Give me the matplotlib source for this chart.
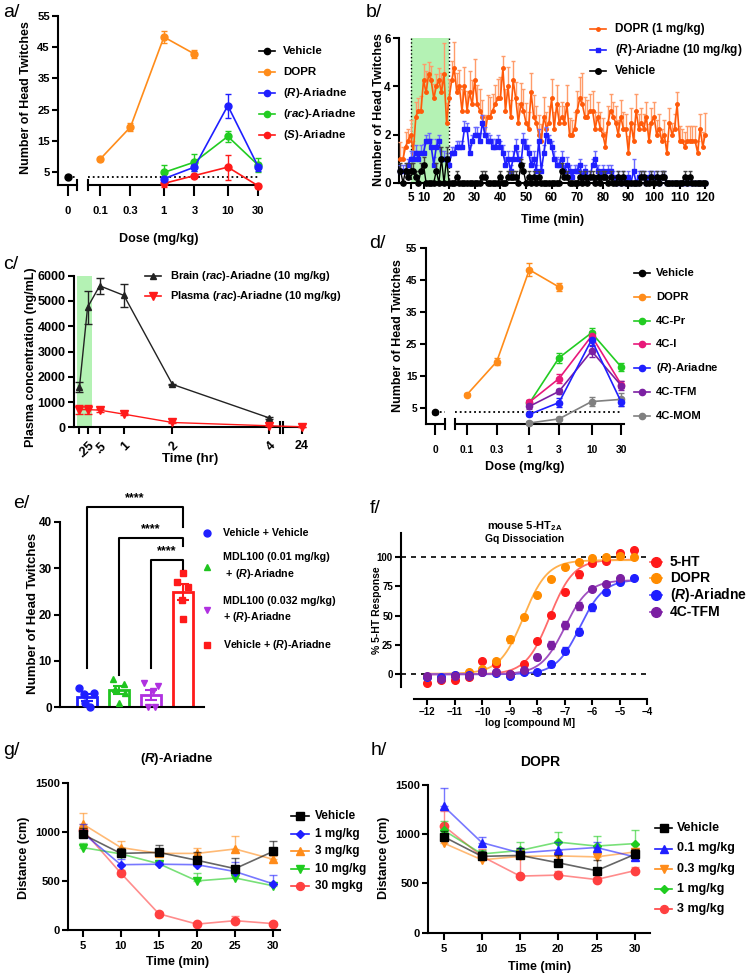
import numpy as np
import matplotlib
matplotlib.use('Agg')
import matplotlib.pyplot as plt
from matplotlib.lines import Line2D
from matplotlib.patches import ConnectionPatch
from matplotlib import font_manager

_names = {f.name for f in font_manager.fontManager.ttflist}
NARROW = 'Liberation Sans Narrow' if 'Liberation Sans Narrow' in _names else 'Liberation Sans'
HAS_NARROW = NARROW == 'Liberation Sans Narrow'

plt.rcParams['font.family'] = ['Liberation Sans', 'DejaVu Sans']
plt.rcParams['font.weight'] = 'bold'
plt.rcParams['axes.labelweight'] = 'bold'
plt.rcParams['mathtext.fontset'] = 'custom'
plt.rcParams['mathtext.rm'] = 'Liberation Sans:bold'
plt.rcParams['mathtext.it'] = 'Liberation Sans:italic:bold'
plt.rcParams['mathtext.bf'] = 'Liberation Sans:bold'
plt.rcParams['axes.linewidth'] = 1.5

# ======================= DATA =======================
# --- panel a ---
dose_ticks = [0.1, 0.3, 1, 3, 10, 30]
dose_tick_labels = ['0.1', '0.3', '1', '3', '10', '30']
dose_yticks = [5, 15, 25, 35, 45, 55]
a_vehicle_dose = [0]
a_vehicle = [3.7]
a_vehicle_err = [0.5]
a_dopr_dose = [0.1, 0.3, 1, 3]
a_dopr = [9.2, 19.5, 48.2, 42.8]
a_dopr_err = [0.5, 1.2, 2.0, 1.3]
a_ari_dose = [1, 3, 10, 30]
a_r = [3.0, 6.7, 26.3, 6.8]
a_r_err = [0.5, 1.3, 3.8, 1.2]
a_rac = [5.0, 8.3, 16.5, 7.3]
a_rac_err = [2.5, 2.7, 1.7, 2.2]
a_s = [1.5, 4.0, 6.7, 0.7]
a_s_err = [1.0, 0.5, 4.0, 0.5]

# --- panel b ---
b_time = list(range(1, 121))
b_dopr = [1.0, 1.0, 1.5, 1.75, 2.0, 1.25, 2.75, 3.0, 3.0, 4.25,
          3.75, 4.5, 4.25, 3.5, 4.0, 4.25, 3.75, 4.5, 2.5, 3.5,
          4.25, 4.75, 3.75, 4.0, 3.0, 4.0, 3.0, 3.75, 3.25, 4.25,
          3.25, 3.0, 2.75, 2.0, 2.75, 2.75, 3.0, 3.25, 3.5, 3.5,
          4.75, 3.0, 4.0, 2.75, 4.25, 3.5, 2.5, 3.25, 3.0, 2.5,
          2.25, 3.75, 2.75, 2.5, 2.0, 1.75, 2.75, 2.25, 2.5, 3.5,
          2.25, 3.25, 2.5, 2.75, 2.5, 3.25, 2.0, 2.0, 2.25, 3.0,
          3.5, 3.25, 2.75, 2.75, 3.0, 3.0, 2.25, 2.75, 2.25, 2.0,
          1.5, 2.5, 3.0, 2.75, 2.5, 2.0, 2.75, 2.25, 2.25, 1.25,
          2.5, 1.75, 3.0, 2.25, 2.5, 2.25, 2.75, 1.75, 2.5, 2.75,
          2.0, 2.25, 1.75, 2.0, 1.25, 2.5, 2.0, 2.25, 3.25, 1.75,
          1.75, 1.5, 1.75, 1.75, 1.75, 1.75, 1.25, 2.25, 1.5, 2.0]
b_dopr_err = [0.7, 0.5, 0.6, 0.5, 0.6, 0.5, 0.6, 0.5, 0.6, 0.7,
              0.9, 0.5, 0.6, 0.6, 0.5, 0.5, 0.8, 1.3, 0.8, 0.8,
              0.8, 1.1, 0.8, 0.7, 0.9, 0.8, 0.8, 0.9, 1.0, 0.9,
              0.8, 0.9, 0.7, 0.8, 0.9, 0.8, 0.7, 0.8, 0.8, 0.9,
              0.5, 0.9, 0.8, 0.7, 0.8, 0.7, 0.8, 0.9, 0.9, 0.8,
              0.7, 0.8, 0.9, 0.7, 0.8, 0.7, 0.8, 0.7, 0.7, 0.8,
              0.7, 0.8, 0.7, 0.6, 0.7, 0.8, 0.7, 0.6, 0.7, 0.8,
              0.9, 1.3, 0.8, 0.7, 0.7, 0.8, 0.7, 0.6, 0.7, 0.7,
              0.6, 0.7, 0.7, 0.6, 0.7, 0.6, 0.7, 0.7, 0.6, 0.7,
              0.6, 0.7, 0.7, 0.6, 0.6, 0.6, 0.6, 0.7, 0.6, 0.6,
              0.6, 0.6, 0.5, 0.6, 0.5, 0.6, 0.5, 0.6, 0.5, 0.6,
              0.5, 0.6, 0.6, 0.6, 0.6, 0.6, 0.5, 0.6, 0.6, 0.9]
b_ari = [0.5, 0.5, 0.5, 0.75, 1.0, 1.0, 1.25, 1.0, 1.25, 1.25,
         1.75, 1.75, 1.5, 0.75, 1.5, 1.75, 1.0, 1.0, 1.0, 0.75,
         1.25, 1.25, 1.5, 1.5, 1.5, 2.25, 2.25, 1.25, 1.75, 2.0,
         2.0, 1.75, 2.5, 2.0, 1.75, 1.75, 1.5, 1.5, 1.75, 1.5,
         1.25, 0.75, 1.0, 0.5, 1.0, 1.5, 1.0, 0.75, 1.75, 1.5,
         1.25, 0.75, 1.0, 0.5, 1.75, 0.5, 1.25, 2.0, 1.75, 1.5,
         1.0, 0.75, 0.75, 1.0, 0.5, 0.75, 0.5, 0.25, 0.5, 0.5,
         0.75, 0.25, 0.5, 0.25, 0.25, 0.75, 1.0, 0.5, 0.25, 0.5,
         0.25, 0.5, 0.5, 0.25, 0.0, 0.25, 0.0, 0.25, 0.0, 0.25,
         0.0, 0.5, 0.0, 0.25, 0.25, 0.25, 0.0, 0.25, 0.25, 0.25,
         0.25, 0.0, 0.25, 0.25, 0.0, 0.0, 0.0, 0.0, 0.0, 0.0,
         0.0, 0.0, 0.0, 0.0, 0.0, 0.0, 0.0, 0.0, 0.0, 0.0]
b_ari_err = [0.25, 0.25, 0.25, 0.25, 0.3, 0.3, 0.3, 0.3, 0.3, 0.35,
             0.25, 0.3, 0.3, 0.3, 0.3, 0.25, 0.3, 0.3, 0.25, 0.3,
             0.25, 0.25, 0.25, 0.25, 0.25, 0.3, 0.25, 0.3, 0.25, 0.3,
             0.3, 0.3, 0.3, 0.3, 0.3, 0.25, 0.3, 0.3, 0.25, 0.25,
             0.3, 0.3, 0.3, 0.25, 0.3, 0.3, 0.3, 0.3, 0.3, 0.3,
             0.3, 0.3, 0.3, 0.25, 0.5, 0.25, 0.3, 0.3, 0.25, 0.25,
             0.3, 0.3, 0.25, 0.3, 0.25, 0.3, 0.25, 0.25, 0.25, 0.25,
             0.25, 0.25, 0.25, 0.25, 0.25, 0.25, 0.3, 0.25, 0.25, 0.25,
             0.25, 0.25, 0.25, 0.25, 0.0, 0.25, 0.0, 0.25, 0.0, 0.25,
             0.0, 0.5, 0.0, 0.25, 0.25, 0.25, 0.0, 0.25, 0.25, 0.25,
             0.25, 0.0, 0.25, 0.25, 0.0, 0.0, 0.0, 0.0, 0.0, 0.0,
             0.0, 0.0, 0.0, 0.0, 0.0, 0.0, 0.0, 0.0, 0.0, 0.0]
b_veh = [0.5, 0.0, 0.5, 0.25, 0.5, 0.5, 0.25, 0.0, 0.5, 0.75,
         0.0, 0.0, 0.0, 0.0, 0.5, 0.0, 1.0, 0.0, 1.0, 0.0,
         0.0, 0.0, 0.25, 0.0, 0.0, 0.0, 0.0, 0.0, 0.0, 0.0,
         0.0, 0.0, 0.25, 0.25, 0.0, 0.0, 0.0, 0.0, 0.0, 0.25,
         0.0, 0.0, 0.25, 0.25, 0.25, 0.25, 0.0, 0.75, 0.5, 0.0,
         0.25, 0.0, 0.25, 0.0, 0.25, 0.0, 0.0, 0.0, 0.0, 0.0,
         0.0, 0.0, 0.0, 0.5, 0.25, 0.25, 0.0, 0.0, 0.0, 0.0,
         0.25, 0.0, 0.25, 0.0, 0.25, 0.25, 0.0, 0.25, 0.0, 0.25,
         0.25, 0.0, 0.25, 0.0, 0.0, 0.25, 0.0, 0.25, 0.0, 0.0,
         0.0, 0.0, 0.0, 0.0, 0.25, 0.25, 0.0, 0.0, 0.25, 0.0,
         0.25, 0.0, 0.25, 0.25, 0.0, 0.0, 0.0, 0.0, 0.0, 0.0,
         0.0, 0.25, 0.0, 0.25, 0.0, 0.0, 0.0, 0.0, 0.0, 0.0]
b_veh_err = [0.3, 0.0, 0.3, 0.25, 0.3, 0.3, 0.25, 0.0, 0.3, 0.3,
             0.0, 0.0, 0.0, 0.0, 0.3, 0.0, 0.5, 0.0, 0.5, 0.0,
             0.0, 0.0, 0.25, 0.0, 0.0, 0.0, 0.0, 0.0, 0.0, 0.0,
             0.0, 0.0, 0.25, 0.25, 0.0, 0.0, 0.0, 0.0, 0.0, 0.25,
             0.0, 0.0, 0.25, 0.25, 0.25, 0.25, 0.0, 0.25, 0.3, 0.0,
             0.25, 0.0, 0.25, 0.0, 0.25, 0.0, 0.0, 0.0, 0.0, 0.0,
             0.0, 0.0, 0.0, 0.3, 0.25, 0.25, 0.0, 0.0, 0.0, 0.0,
             0.25, 0.0, 0.25, 0.0, 0.25, 0.25, 0.0, 0.25, 0.0, 0.25,
             0.25, 0.0, 0.25, 0.0, 0.0, 0.25, 0.0, 0.25, 0.0, 0.0,
             0.0, 0.0, 0.0, 0.0, 0.25, 0.25, 0.0, 0.0, 0.25, 0.0,
             0.25, 0.0, 0.25, 0.25, 0.0, 0.0, 0.0, 0.0, 0.0, 0.0,
             0.0, 0.25, 0.0, 0.25, 0.0, 0.0, 0.0, 0.0, 0.0, 0.0]
b_shade = [5, 20]
b_xticks = [5, 10, 20, 30, 40, 50, 60, 70, 80, 90, 100, 110, 120]
b_yticks = [0, 2, 4, 6]

# --- panel c ---
c_time = [0.083, 0.25, 0.5, 1, 2, 4]
c_tick_labels = ['', '.25', '.5', '1', '2', '4']
c_brain = [1600, 4750, 5600, 5220, 1700, 370]
c_brain_err = [200, 650, 320, 450, 30, 50]
c_plasma = [700, 700, 680, 520, 190, 60]
c_plasma_err = [170, 170, 60, 40, 20, 15]
c_time_late = [24]
c_plasma_late = [20]
c_plasma_late_err = [10]
c_shade = [0.035, 0.333]
c_yticks = [0, 1000, 2000, 3000, 4000, 5000, 6000]

# --- panel d ---
d_vehicle = [3.7]
d_vehicle_err = [0.5]
d_dopr = [9.2, 19.5, 48.2, 42.8]
d_dopr_err = [0.5, 1.2, 2.0, 1.3]
d_pr = [6.5, 20.7, 28.5, 17.8]
d_pr_err = [1.0, 1.5, 1.5, 1.3]
d_i = [6.8, 14.2, 27.5, 12.3]
d_i_err = [0.8, 1.5, 1.5, 1.2]
d_r = [3.0, 6.7, 26.3, 6.8]
d_r_err = [0.5, 1.3, 2.0, 1.2]
d_tfm = [5.5, 10.2, 22.8, 12.0]
d_tfm_err = [0.8, 0.8, 1.8, 1.5]
d_mom = [0.3, 1.6, 7.0, 7.7]
d_mom_err = [0.5, 0.5, 1.3, 2.0]

# --- panel e ---
e_labels = ['Vehicle + Vehicle', 'MDL100 (0.01 mg/kg)\n + ($\\mathit{R}$)-Ariadne',
            'MDL100 (0.032 mg/kg)\n+ ($\\mathit{R}$)-Ariadne', 'Vehicle + ($\\mathit{R}$)-Ariadne']
e_g1 = [4.1, 2.9, 3.0, 1.0, 0.0]
e_g2 = [6.0, 5.0, 4.0, 3.0, 1.0]
e_g3 = [5.3, 4.5, 3.5, 0.0, 0.0]
e_g4 = [29.0, 27.0, 26.0, 23.2, 19.0]
e_yticks = [0, 10, 20, 30, 40]
e_sig = ['****', '****', '****']

# --- panel f ---
f_logc = [-12, -11.5, -11, -10.5, -10, -9.5, -9, -8.5, -8, -7.5, -7, -6.5, -6, -5.5, -5, -4.5]
f_5ht = [-7.1, -4.8, -4.8, -2.6, 11.1, 8.8, 0.0, 8.8, 28.8, 50.7, 70.7, 85.5, 94.9, 96.9, 103.4, 106.3]
f_5ht_err = [1, 1, 1, 1, 1, 2, 1, 1, 1, 2, 2, 3, 1.5, 1, 1, 1]
f_dopr = [-2.0, -2.0, -1.0, 2.3, 4.3, 11.7, 29.9, 48.7, 68.0, 81.2, 91.5, 96.3, 99.4, 100.6, 101.4, 100.6]
f_dopr_err = [1, 1, 1, 1, 1, 1.5, 3, 1.5, 1.5, 1.5, 1.5, 1, 1, 1, 1, 1]
f_ari = [-2.6, -2.0, -1.0, -0.6, 2.3, 1.4, -1.1, 2.3, 2.3, 8.8, 20.2, 36.5, 57.3, 70.7, 79.2, 82.6]
f_ari_err = [1, 1, 1, 1, 1, 1, 1.5, 1, 1, 2.5, 3, 3, 3, 1.5, 1, 1]
f_tfm = [-1.4, -4.3, -1.4, -1.4, 2.3, 2.3, 0.3, 3.7, 15.1, 25.1, 42.2, 58.4, 72.9, 76.9, 82.1, np.nan]
f_tfm_err = [1, 1.5, 1, 1, 1, 1, 1, 1, 2.5, 3.5, 3.5, 3.5, 1.5, 1.5, 1, 0]
# 4-parameter logistic fit parameters: bottom, top, logEC50, hill
f_fit_5ht = [0.0, 98.0, -7.55, 1.0]
f_fit_dopr = [0.5, 97.5, -8.5, 1.0]
f_fit_ari = [0.0, 81.0, -6.45, 1.0]
f_fit_tfm = [0.0, 80.5, -7.0, 1.0]
f_xticks = [-12, -11, -10, -9, -8, -7, -6, -5, -4]
f_yticks = [0, 25, 50, 75, 100]

# --- panel g ---
gh_time = [5, 10, 15, 20, 25, 30]
g_veh = [975, 780, 790, 710, 625, 800]
g_veh_err = [60, 50, 80, 80, 110, 105]
g_1 = [990, 665, 670, 665, 595, 470]
g_1_err = [90, 60, 20, 30, 100, 85]
g_3 = [1080, 840, 780, 780, 825, 720]
g_3_err = [115, 65, 25, 60, 135, 30]
g_10 = [840, 775, 675, 500, 530, 450]
g_10_err = [50, 40, 25, 80, 30, 20]
g_30 = [1020, 580, 165, 60, 95, 65]
g_30_err = [40, 30, 15, 15, 45, 20]

# --- panel h ---
h_veh = [975, 775, 785, 710, 630, 795]
h_veh_err = [60, 50, 80, 80, 110, 60]
h_01 = [1285, 915, 810, 840, 865, 770]
h_01_err = [180, 60, 55, 80, 55, 20]
h_03 = [910, 740, 775, 780, 770, 820]
h_03_err = [40, 40, 60, 40, 40, 40]
h_1 = [1040, 800, 835, 920, 880, 905]
h_1_err = [90, 40, 85, 105, 105, 135]
h_3 = [1085, 775, 575, 585, 540, 630]
h_3_err = [150, 70, 280, 40, 30, 40]
gh_yticks = [0, 500, 1000, 1500]

# ======================= LAYOUT HELPERS =======================
W, H = 746, 975
fig = plt.figure(figsize=(W / 100, H / 100), dpi=100, facecolor='white')
NS = 1.0 if HAS_NARROW else 0.9   # size factor for narrow-font texts


def add_ax(l, t, r, b):
    ax = fig.add_axes([l / W, 1 - b / H, (r - l) / W, (b - t) / H])
    ax.patch.set_alpha(0)
    for s in ('top', 'right'):
        ax.spines[s].set_visible(False)
    return ax


def ftext(x, y, s, **kw):
    kw.setdefault('fontweight', 'bold')
    return fig.text(x / W, 1 - y / H, s, **kw)


def leg(x0, x1, tx, y, color, label, marker='o', ms=5, lw=1.2, fs=9, family=None, lcolor=None):
    yf = 1 - y / H
    if lw > 0:
        fig.add_artist(Line2D([x0 / W, x1 / W], [yf, yf], color=lcolor or color, lw=lw))
    fig.add_artist(Line2D([(x0 + x1) / 2 / W], [yf], color=color, marker=marker, ms=ms, ls='none'))
    kw = dict(va='center', ha='left', fontsize=fs)
    if family:
        kw['family'] = [family, 'DejaVu Sans']
    ftext(tx, y, label, **kw)


def style_ticks(ax, fs, fam=None, xlen=5, ylen=4, xpad=3, ypad=2):
    ax.tick_params(axis='x', length=xlen, width=1.5, pad=xpad, labelsize=fs)
    ax.tick_params(axis='y', length=ylen, width=1.5, pad=ypad, labelsize=fs)
    for lab in ax.get_xticklabels() + ax.get_yticklabels():
        lab.set_fontweight('bold')
        if fam:
            lab.set_family([fam, 'DejaVu Sans'])


def dose_panel(l, rs, lb, r, t, b, ylim, xlim_big, fam, fs):
    ax0 = add_ax(l, t, rs, b)
    ax1 = add_ax(lb, t, r, b)
    ax1.spines['left'].set_visible(False)
    ax0.set_xlim(-1, 1)
    ax1.set_xscale('log')
    ax1.set_xlim(*xlim_big)
    ax0.set_ylim(*ylim)
    ax1.set_ylim(*ylim)
    ax0.set_yticks(dose_yticks)
    ax1.set_yticks([])
    ax0.set_xticks([0])
    ax0.set_xticklabels(['0'])
    ax1.set_xticks(dose_ticks)
    ax1.set_xticklabels(dose_tick_labels)
    ax1.minorticks_off()
    for ax in (ax0, ax1):
        style_ticks(ax, fs, fam, xlen=8, ylen=4, xpad=7)
    ax0.plot([1, 1], [-0.03, 0.03], transform=ax0.transAxes, color='k', lw=1.5, clip_on=False)
    ax1.plot([0, 0], [-0.03, 0.03], transform=ax1.transAxes, color='k', lw=1.5, clip_on=False)
    return ax0, ax1


def ebar(ax, x, y, err, color, marker='o', ms=5, lw=1.2, cap=2.5, ecolor=None, upper=False, z=3, alpha=1.0):
    e = err
    if upper:
        e = [np.zeros(len(err)), err]
    ax.errorbar(x, y, yerr=e, fmt='-' + marker, color=color, ecolor=ecolor or color, ms=ms, lw=lw,
                elinewidth=1.0, capsize=cap, capthick=1.0, zorder=z, clip_on=False, alpha=alpha)


ORANGE = '#ff8c1a'
BLUE = '#1f1fff'
GREEN = '#22cc22'
RED = '#ff1a1a'

# ======================= PANEL a =======================
a0, a1 = dose_panel(58.3, 77.3, 88.3, 260, 15.7, 185, (1.0, 55), (0.0656, 31.9), NARROW, 9 * NS)
a0.plot([a_vehicle_dose[0], 1], [a_vehicle[0], a_vehicle[0]], ls=':', color='k', lw=1.3, clip_on=False)
a1.hlines(a_vehicle[0], a1.get_xlim()[0], max(dose_ticks), colors='k', linestyles=':', lw=1.3)
ebar(a0, a_vehicle_dose, a_vehicle, a_vehicle_err, 'k')
ebar(a1, a_dopr_dose, a_dopr, a_dopr_err, ORANGE)
ebar(a1, a_ari_dose, a_rac, a_rac_err, GREEN)
ebar(a1, a_ari_dose, a_s, a_s_err, RED)
ebar(a1, a_ari_dose, a_r, a_r_err, BLUE)
ftext(26, 98, 'Number of Head Twitches', rotation=90, va='center', ha='center', fontsize=10 * NS,
      family=[NARROW, 'DejaVu Sans'])
ftext(159, 239, 'Dose (mg/kg)', ha='center', va='center', fontsize=10 * NS, family=[NARROW, 'DejaVu Sans'])
ftext(3, 4, 'a/', ha='left', va='top', fontsize=14, fontweight='normal')
for i, (c, lab) in enumerate([('k', 'Vehicle'), (ORANGE, 'DOPR'), (BLUE, '($\\mathit{R}$)-Ariadne'),
                              (GREEN, '($\\mathit{rac}$)-Ariadne'), (RED, '($\\mathit{S}$)-Ariadne')]):
    leg(259, 275, 283, 51 + i * 21, c, lab, ms=4.5, fs=9.2 * NS, family=NARROW)

# ======================= PANEL b =======================
b = add_ax(399, 38.3, 706.3, 182.7)
b.set_xlim(0.43, 120.4)
b.set_ylim(0, 6)
b.axvspan(b_shade[0], b_shade[1], color='#b4f2b4', lw=0, zorder=0)
for xv in b_shade:
    b.axvline(xv, color='k', ls=':', lw=1.0, zorder=1)
ebar(b, b_time, b_dopr, b_dopr_err, '#ff5a0a', ms=2.5, lw=1.2, cap=1.5, ecolor='#ff9c6a', upper=True)
ebar(b, b_time, b_ari, b_ari_err, BLUE, marker='s', ms=2.3, lw=1.2, cap=1.5, ecolor='#6a6aff', upper=True, z=4)
ebar(b, b_time, b_veh, b_veh_err, 'k', ms=3.8, lw=1.0, cap=1.5, ecolor='#444444', upper=True, z=5)
b.set_xticks(b_xticks)
b.set_yticks(b_yticks)
style_ticks(b, 8.5, xlen=4, ylen=4)
ftext(379, 110, 'Number of Head Twitches', rotation=90, va='center', ha='center', fontsize=9)
ftext(553, 220, 'Time (min)', ha='center', va='center', fontsize=9)
ftext(366, 4, 'b/', ha='left', va='top', fontsize=14, fontweight='normal')
leg(590, 606, 615, 29, '#ff5a0a', 'DOPR (1 mg/kg)', ms=2.5, fs=8.5)
leg(590, 606, 615, 50, BLUE, '($\\mathit{R}$)-Ariadne (10 mg/kg)', marker='s', ms=2.5, fs=8.5)
leg(590, 606, 615, 71, 'k', 'Vehicle', ms=4, fs=8.5)

# ======================= PANEL c =======================
c = add_ax(74, 275.7, 280, 427.3)
c2 = add_ax(283.3, 275.7, 303.5, 427.3)
c2.spines['left'].set_visible(False)
c.set_xlim(-0.03, 4.22)
c2.set_xlim(23.0, 24.1)
c.set_ylim(0, 6000)
c2.set_ylim(0, 6000)
c.axvspan(c_shade[0], c_shade[1], color='#b4f2b4', lw=0, zorder=0)
ebar(c, c_time, c_brain, c_brain_err, '#222222', marker='^', ms=5, lw=1.0, cap=3)
ebar(c, c_time, c_plasma, c_plasma_err, RED, marker='v', ms=6, lw=1.0, cap=3)
ebar(c2, c_time_late, c_plasma_late, c_plasma_late_err, RED, marker='v', ms=6, lw=1.0, cap=3)
con = ConnectionPatch(xyA=(c_time[-1], c_plasma[-1]), coordsA=c.transData,
                      xyB=(c_time_late[0], c_plasma_late[0]), coordsB=c2.transData, color=RED, lw=1.0)
fig.add_artist(con)
c.set_xticks(c_time)
c.set_xticklabels(c_tick_labels, rotation=45, ha='right', rotation_mode='anchor')
c.set_yticks(c_yticks)
c2.set_yticks([])
c2.set_xticks(c_time_late)
c2.set_xticklabels(['24'])
style_ticks(c, 9, xlen=5, ylen=4, xpad=4)
style_ticks(c2, 9, xlen=5, ylen=4, xpad=4)
c.plot([1, 1], [-0.035, 0.035], transform=c.transAxes, color='k', lw=1.5, clip_on=False)
c2.plot([0, 0], [-0.035, 0.035], transform=c2.transAxes, color='k', lw=1.5, clip_on=False)
ftext(31, 357, 'Plasma concentration (ng/mL)', rotation=90, va='center', ha='center', fontsize=9)
ftext(190, 459, 'Time (hr)', ha='center', va='center', fontsize=9.5)
ftext(3, 256, 'c/', ha='left', va='top', fontsize=14, fontweight='normal')
leg(145, 161, 170, 276, '#222222', 'Brain ($\\mathit{rac}$)-Ariadne (10 mg/kg)', marker='^', ms=5, fs=8)
leg(145, 161, 170, 295.7, RED, 'Plasma ($\\mathit{rac}$)-Ariadne (10 mg/kg)', marker='v', ms=5.5, fs=8)

# ======================= PANEL d =======================
d0, d1 = dose_panel(425.7, 444.7, 454.7, 623.7, 248, 424, (0, 55), (0.0634, 32.8), NARROW, 8.2 * NS)
d0.plot([0, 1], [d_vehicle[0], d_vehicle[0]], ls=':', color='k', lw=1.3, clip_on=False)
d1.hlines(d_vehicle[0], d1.get_xlim()[0], max(dose_ticks), colors='k', linestyles=':', lw=1.3)
PINK = '#e8197a'
PURPLE = '#7b1fa2'
GRAY = '#808080'
ebar(d0, a_vehicle_dose, d_vehicle, d_vehicle_err, 'k', ms=4.5)
ebar(d1, a_dopr_dose, d_dopr, d_dopr_err, ORANGE, ms=4.5)
ebar(d1, a_ari_dose, d_mom, d_mom_err, GRAY, ms=4.5)
ebar(d1, a_ari_dose, d_pr, d_pr_err, GREEN, ms=4.5)
ebar(d1, a_ari_dose, d_i, d_i_err, PINK, ms=4.5)
ebar(d1, a_ari_dose, d_tfm, d_tfm_err, PURPLE, ms=4.5)
ebar(d1, a_ari_dose, d_r, d_r_err, BLUE, ms=4.5)
ftext(398, 336, 'Number of Head Twitches', rotation=90, va='center', ha='center', fontsize=10 * NS,
      family=[NARROW, 'DejaVu Sans'])
ftext(525, 467, 'Dose (mg/kg)', ha='center', va='center', fontsize=10 * NS, family=[NARROW, 'DejaVu Sans'])
ftext(369, 235, 'd/', ha='left', va='top', fontsize=14, fontweight='normal')
for i, (cc, lab) in enumerate([('k', 'Vehicle'), (ORANGE, 'DOPR'), (GREEN, '4C-Pr'), (PINK, '4C-I'),
                               (BLUE, '($\\mathit{R}$)-Ariadne'), (PURPLE, '4C-TFM'), (GRAY, '4C-MOM')]):
    leg(634, 650, 656, 273 + i * 23.8, cc, lab, ms=4.5, fs=9 * NS, family=NARROW)

# ======================= PANEL e =======================
e = add_ax(60, 521.7, 204, 707.3)
e.set_xlim(-0.86, 3.67)
e.set_ylim(0, 40)
e_groups = [e_g1, e_g2, e_g3, e_g4]
e_colors = [BLUE, '#1fc41f', '#b030e0', RED]
e_markers = ['o', '^', 'v', 's']
e_jitter = [[-0.26, -0.10, 0.21, -0.07, 0.08],
            [-0.19, 0.15, -0.14, 0.18, 0.0],
            [-0.21, 0.23, 0.05, -0.10, 0.13],
            [0.0, -0.17, 0.18, -0.03, 0.0]]
xpos = np.arange(len(e_groups))
means = [np.mean(g) for g in e_groups]
sems = [np.std(g, ddof=1) / np.sqrt(len(g)) for g in e_groups]
e.bar(xpos, means, width=0.62, facecolor='white', edgecolor=e_colors, linewidth=2.0, zorder=2)
for i, g in enumerate(e_groups):
    e.errorbar(xpos[i], means[i], yerr=sems[i], fmt='none', ecolor=e_colors[i], elinewidth=1.5,
               capsize=4, capthick=1.5, zorder=3)
    e.plot(xpos[i] + np.array(e_jitter[i]), g, ls='none', marker=e_markers[i], color=e_colors[i],
           ms=5, zorder=4, clip_on=False)
e.set_xticks([])
e.set_yticks(e_yticks)
style_ticks(e, 8.5, ylen=4)
br_h = [43.1, 36.4, 31.7]
br_left = [8.5, 7.0, 8.5]
br_right = [38.9, 34.7, 29.9]
for k in range(3):
    e.plot([xpos[k], xpos[k], xpos[3], xpos[3]], [br_left[k], br_h[k], br_h[k], br_right[k]],
           color='k', lw=1.5, clip_on=False, zorder=5)
    e.text((xpos[k] + xpos[3]) / 2, br_h[k] + 0.6, e_sig[k], ha='center', va='bottom', fontsize=9,
           fontweight='bold', clip_on=False)
ftext(33, 613, 'Number of Head Twitches', rotation=90, va='center', ha='center', fontsize=9.5)
ftext(13, 495, 'e/', ha='left', va='top', fontsize=14, fontweight='normal')
leg_rows = [533.3, 566.8, 610, 645]
for i in range(4):
    fig.add_artist(Line2D([207 / W], [1 - leg_rows[i] / H], color=e_colors[i], marker=e_markers[i],
                          ms=5, ls='none'))
    ftext(223, leg_rows[i], e_labels[i], va='center', ha='left', fontsize=8.5 * NS,
          family=[NARROW, 'DejaVu Sans'], linespacing=1.5)

# ======================= PANEL f =======================
f = add_ax(401.3, 533, 647.3, 686.7)
f.set_xlim(-12.95, -4.0)
f.set_ylim(-10.6, 120.7)
f.spines['bottom'].set_position(('outward', 9))
f.spines['bottom'].set_bounds(-12.5, -4)
f.axhline(100, color='k', ls='--', lw=1.2, dashes=(3, 3))
f.axhline(0, color='k', ls='--', lw=1.2, dashes=(3, 3))
xx = np.linspace(min(f_logc), max(f_logc), 300)


def logistic(x, p):
    bot, top, ec, hill = p
    return bot + (top - bot) / (1 + 10 ** ((ec - x) * hill))


series_f = [(f_5ht, f_5ht_err, f_fit_5ht, RED, '#ff6b6b', '5-HT'),
            (f_dopr, f_dopr_err, f_fit_dopr, '#ff8c00', '#ffb04d', 'DOPR'),
            (f_ari, f_ari_err, f_fit_ari, BLUE, '#5a5aff', '($\\mathit{R}$)-Ariadne'),
            (f_tfm, f_tfm_err, f_fit_tfm, PURPLE, '#a050c0', '4C-TFM')]
for y, err, p, col, lc, lab in series_f:
    f.plot(xx, logistic(xx, p), color=lc, lw=1.3, zorder=2)
    f.errorbar(f_logc, y, yerr=err, fmt='o', color=col, ms=5.5, elinewidth=1.0, capsize=2, zorder=3)
f.set_xticks(f_xticks)
f.set_yticks(f_yticks)
style_ticks(f, 7, xlen=4, ylen=4, xpad=1.5)
ftext(524.7, 526, 'mouse 5-HT$_{\\mathrm{2A}}$', ha='center', va='center', fontsize=8)
ftext(524.7, 539, 'Gq Dissociation', ha='center', va='center', fontsize=7.5)
ftext(529.7, 723.5, 'log [compound M]', ha='center', va='center', fontsize=7.5)
ftext(377, 610, '% 5-HT Response', rotation=90, va='center', ha='center', fontsize=7.5)
ftext(370, 500, 'f/', ha='left', va='top', fontsize=14, fontweight='normal')
for i, (y, err, p, col, lc, lab) in enumerate(series_f):
    leg(650, 662, 670, 561.7 + i * 16.7, col, lab, ms=7, lw=1.3, fs=10, lcolor=lc)

# ======================= PANELS g, h =======================
VEHC = '#000000'
REDL = '#ff4040'
g = add_ax(68.3, 782.7, 280, 930)
g.set_xlim(3.11, 30.9)
g.set_ylim(0, 1500)
g_series = [(g_30, g_30_err, REDL, 'o', 6, '30 mgkg'),
            (g_10, g_10_err, '#1fcc1f', 'v', 6, '10 mg/kg'),
            (g_3, g_3_err, ORANGE, '^', 6, '3 mg/kg'),
            (g_1, g_1_err, BLUE, 'D', 3.8, '1 mg/kg'),
            (g_veh, g_veh_err, VEHC, 's', 6, 'Vehicle')]
for y, err, col, m, ms, lab in g_series:
    g.errorbar(gh_time, y, yerr=[np.zeros(len(err)), err], fmt='none', ecolor=col, elinewidth=1.0,
               capsize=3, capthick=1.0, alpha=0.6)
    g.plot(gh_time, y, color=col, lw=1.2, alpha=0.6)
    g.plot(gh_time, y, ls='none', marker=m, color=col, ms=ms)
g.set_xticks(gh_time)
g.set_yticks(gh_yticks)
style_ticks(g, 8, xlen=5, ylen=4)
ftext(176.7, 759, '($\\mathit{R}$)-Ariadne', ha='center', va='center', fontsize=9.5)
ftext(178, 962, 'Time (min)', ha='center', va='center', fontsize=9)
ftext(24, 858, 'Distance (cm)', rotation=90, va='center', ha='center', fontsize=9)
ftext(3, 742, 'g/', ha='left', va='top', fontsize=14, fontweight='normal')
for i, (y, err, col, m, ms, lab) in enumerate(reversed(g_series)):
    leg(291, 309, 315, 816 + i * 17.6, col, lab, marker=m, ms=ms * 0.95, fs=8.5)

h = add_ax(428, 785, 649.7, 932.7)
h.set_xlim(2.95, 31.96)
h.set_ylim(0, 1500)
h_series = [(h_3, h_3_err, REDL, 'o', 6, '3 mg/kg'),
            (h_1, h_1_err, '#1fcc1f', 'D', 3.8, '1 mg/kg'),
            (h_03, h_03_err, ORANGE, 'v', 6, '0.3 mg/kg'),
            (h_01, h_01_err, BLUE, '^', 6, '0.1 mg/kg'),
            (h_veh, h_veh_err, VEHC, 's', 6, 'Vehicle')]
for y, err, col, m, ms, lab in h_series:
    h.errorbar(gh_time, y, yerr=[np.zeros(len(err)), err], fmt='none', ecolor=col, elinewidth=1.0,
               capsize=3, capthick=1.0, alpha=0.6)
    h.plot(gh_time, y, color=col, lw=1.2, alpha=0.6)
    h.plot(gh_time, y, ls='none', marker=m, color=col, ms=ms)
h.set_xticks(gh_time)
h.set_yticks(gh_yticks)
style_ticks(h, 8, xlen=5, ylen=4)
ftext(539.7, 762, 'DOPR', ha='center', va='center', fontsize=10)
ftext(539.7, 967, 'Time (min)', ha='center', va='center', fontsize=9)
ftext(384, 858, 'Distance (cm)', rotation=90, va='center', ha='center', fontsize=9)
ftext(371, 742, 'h/', ha='left', va='top', fontsize=14, fontweight='normal')
for i, (y, err, col, m, ms, lab) in enumerate(reversed(h_series)):
    leg(655, 672, 677, 828.3 + i * 20.2, col, lab, marker=m, ms=ms * 0.95, fs=9)

fig.savefig('out.png', dpi=100, facecolor='white')
